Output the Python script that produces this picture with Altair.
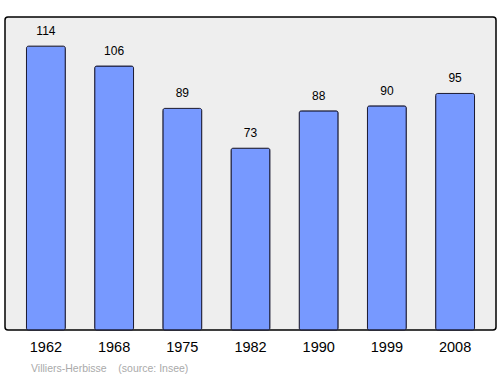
import altair as alt
import pandas as pd

years = ["1962", "1968", "1975", "1982", "1990", "1999", "2008"]
population = [114, 106, 89, 73, 88, 90, 95]
source_note = ["Villiers-Herbisse\u00a0\u00a0\u00a0\u00a0(source: Insee)"]

df = pd.DataFrame({"year": years, "pop": population})
note_df = pd.DataFrame({"note": source_note})

x = alt.X("year:N", sort=years,
          scale=alt.Scale(paddingInner=0.43, paddingOuter=0.315),
          axis=alt.Axis(title=None, labelAngle=0, ticks=False, domain=False,
                        labelFontSize=14.5, labelColor="#000000", labelPadding=10,
                        labelFont="Liberation Sans", grid=False))
y = alt.Y("pop:Q", scale=alt.Scale(domain=[0, 125.7], nice=False, zero=True),
          axis=None)

bars = alt.Chart(df).mark_bar(color="#7799ff", stroke="#1a1a33", strokeWidth=1,
                              cornerRadius=2).encode(x=x, y=y)
labels = alt.Chart(df).mark_text(dy=-15, fontSize=12, font="Liberation Sans",
                                 color="#000000").encode(x=x, y=y, text="pop:Q")
note = alt.Chart(note_df).mark_text(align="left", baseline="alphabetic", fontSize=10.5,
                                    font="Liberation Sans", color="#aaaaaa").encode(
    x=alt.value(26), y=alt.value(355), text="note:N")

chart = (bars + labels + note).properties(
    width=491, height=313,
    padding={"left": 5, "top": 17, "right": 4, "bottom": 44},
    autosize=alt.AutoSizeParams(type="none"),
    background="#ffffff",
).configure_view(fill="#eeeeee", stroke="#000000", strokeWidth=1.5, cornerRadius=3)

chart.save("out.html", embed_options={"renderer": "svg", "actions": False})
